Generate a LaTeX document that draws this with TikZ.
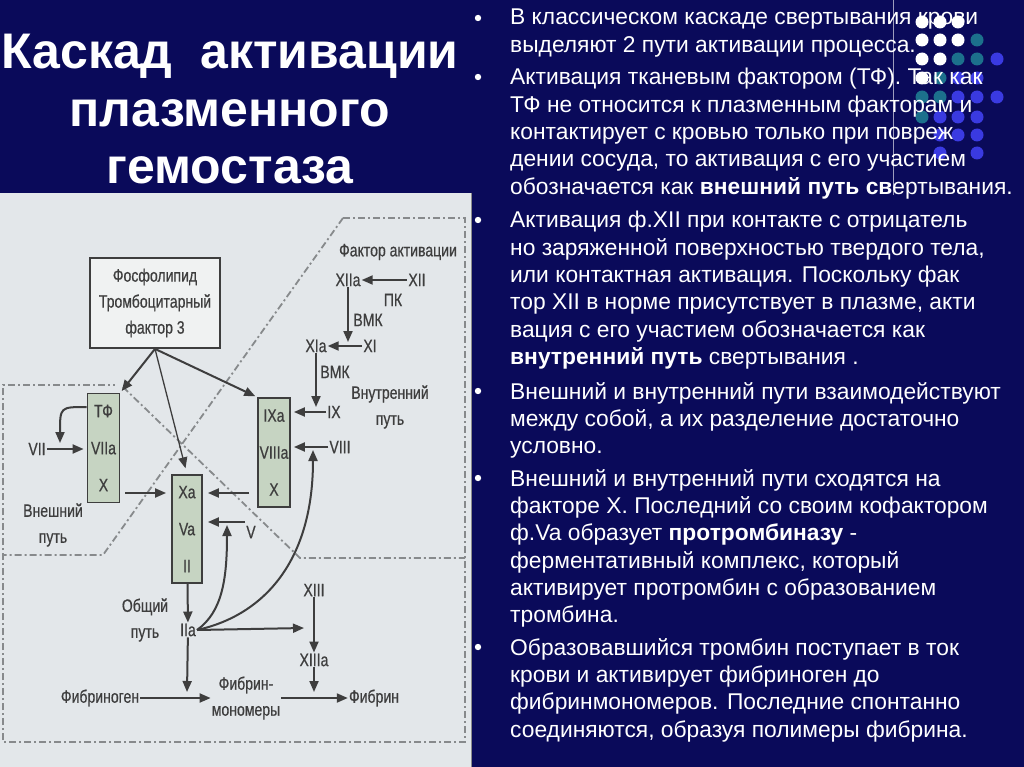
\documentclass[tikz,border=0pt]{standalone}
\usepackage{fontspec}
\setmainfont{Liberation Sans}
\newfontfamily\scanfont[FakeStretch=0.78,FakeBold=0.6]{Liberation Sans}
\usetikzlibrary{arrows.meta}

\definecolor{slidebg}{RGB}{10,10,90}
\definecolor{panelbg}{RGB}{227,231,234}
\definecolor{boxgreen}{RGB}{198,212,194}
\definecolor{boxwhite}{RGB}{240,242,242}
\definecolor{ink}{RGB}{62,62,62}
\definecolor{dashgray}{RGB}{135,138,140}
\definecolor{dotteal}{RGB}{28,112,140}
\definecolor{dotblue}{RGB}{58,58,225}

\tikzset{
  titletext/.style={text=white, font=\bfseries\fontsize{50}{57.5}\selectfont, align=center, inner sep=0pt},
  para/.style={text=white, font=\fontsize{22.8}{27.35}\selectfont, align=left, anchor=north west, inner sep=0pt},
  lbl/.style={text=ink, font=\scanfont\fontsize{18}{26}\selectfont, align=center, inner sep=1pt},
  factorbox/.style={lbl, draw=ink, line width=1.8pt, fill=boxgreen, font=\scanfont\fontsize{18}{37}\selectfont, minimum width=32pt, minimum height=109pt, inner sep=0pt},
  pathline/.style={draw=dashgray, line width=1.8pt, dash pattern=on 7pt off 3pt on 2pt off 3pt},
  arr/.style={draw=ink, line width=2pt, -{Triangle[length=11pt,width=9pt]}},
}

\begin{document}
\begin{tikzpicture}[x=1pt,y=-1pt]
% slide:
\fill[slidebg] (0,0) rectangle (1024,767);
\useasboundingbox (0,0) rectangle (1024,767);
\node[titletext, anchor=north] (title) at (230,34) {Каскад\ \ активации\\плазменного\\гемостаза};

% dots behind the text:
\foreach \dx/\dy/\dc in {977/40/dotteal, 958/59/dotteal, 977/59/dotteal, 997/59/dotblue,
  940/78/dotteal, 958/78/dotblue, 977/78/dotblue, 922/97/dotteal, 940/97/dotteal,
  958/97/dotblue, 977/97/dotblue, 997/97/dotblue, 922/117/dotteal, 940/117/dotblue,
  958/117/dotblue, 977/117/dotblue, 940/135/dotblue, 958/135/dotblue, 977/135/dotblue,
  940/153/dotblue, 977/153/dotblue}
  \fill[\dc] (\dx,\dy) circle (6.5);
\draw[white!60!slidebg, line width=0.8pt] (893,0) -- (893,195);

% bullet text:
\foreach \by in {18,77,220,391,478,647}
  \fill[white] (478,\by) circle (3.2);
\node[para] (p1) at (510,9) {В классическом каскаде свертывания крови\\выделяют 2 пути активации процесса.};
\node[para] (p2) at (510,68) {Активация тканевым фактором (ТФ). Так как\\ТФ не относится к плазменным факторам и\\контактирует с кровью только при повреж\\дении сосуда, то активация с его участием\\обозначается как \textbf{внешний путь св}ертывания.};
\node[para] (p3) at (510,211) {Активация ф.XII при контакте с отрицатель\\но заряженной поверхностью твердого тела,\\или контактная активация. Поскольку фак\\тор XII в норме присутствует в плазме, акти\\вация с его участием обозначается как\\\textbf{внутренний путь} свертывания .};
\node[para] (p4) at (510,382) {Внешний и внутренний пути взаимодействуют\\между собой, а их разделение достаточно\\условно.};
\node[para] (p5) at (510,469) {Внешний и внутренний пути сходятся на\\факторе Х. Последний со своим кофактором\\ф.Va образует \textbf{протромбиназу} -\\ферментативный комплекс, который\\активирует протромбин с образованием\\тромбина.};
\node[para] (p6) at (510,638) {Образовавшийся тромбин поступает в ток\\крови и активирует фибриноген до\\фибринмономеров. Последние спонтанно\\соединяются, образуя полимеры фибрина.};

% white dots over the text:
\foreach \dx/\dy in {922/22, 940/22, 958/22, 922/40, 940/40, 958/40, 922/59, 940/59, 922/78}
  \fill[white] (\dx,\dy) circle (6.5);

% diagram panel:
\fill[panelbg] (0,193) rectangle (471,767);
\draw[ink!60, line width=1pt] (471,193) -- (471,767);
\draw[pathline] (343,218) -- (465,218) -- (465,742) -- (3,742) -- (3,385) -- (115,385);
\draw[pathline] (343,218) -- (103,555) -- (3,555);
\draw[pathline] (123,387) -- (300,558) -- (465,558);

% boxes:
\node[lbl, draw=ink, line width=1.8pt, fill=boxwhite, minimum width=130pt, minimum height=90pt] (phl) at (155,303) {Фосфолипид\\Тромбоцитарный\\фактор 3};
\node[factorbox] (tf) at (103.5,448) {ТФ\\VIIa\\X};
\node[factorbox, minimum width=30pt, minimum height=108pt] (xa) at (187,529) {Xa\\Va\\II};
\node[factorbox] (ixa) at (274,452.5) {IXa\\VIIIa\\X};

% factors:
\node[lbl] (factact) at (398,252) {Фактор активации};
\node[lbl] (xiia) at (348,280) {XIIa};
\node[lbl] (xii) at (417,280) {XII};
\node[lbl] (pk) at (393,300) {ПК};
\node[lbl] (vmk1) at (368,320) {ВМК};
\node[lbl] (xia) at (316,346) {XIa};
\node[lbl] (xi) at (370,346) {XI};
\node[lbl] (vmk2) at (335,372) {ВМК};
\node[lbl] (ix) at (334,412) {IX};
\node[lbl] (viii) at (340,447) {VIII};
\node[lbl] (intpath) at (390,407) {Внутренний\\путь};
\node[lbl] (vii) at (37,449) {VII};
\node[lbl] (extpath) at (53,525) {Внешний\\путь};
\node[lbl] (vf) at (251,532) {V};
\node[lbl] (common) at (145,620) {Общий\\путь};
\node[lbl] (iia) at (188,630) {IIa};
\node[lbl] (xiii) at (314,590) {XIII};
\node[lbl] (xiiia) at (314,660) {XIIIa};
\node[lbl] (fbg) at (100,698) {Фибриноген};
\node[lbl] (fmon) at (246,698) {Фибрин-\\мономеры};
\node[lbl] (fib) at (374,698) {Фибрин};

% arrow ends on other arrows:
\coordinate (j1) at (348,342);
\coordinate (j2) at (316,407);
\coordinate (j3) at (60,443);
\coordinate (j4) at (227,525);
\coordinate (j5) at (313,450);
\coordinate (j6) at (304,628);
\coordinate (j7) at (314,692);
\coordinate (j8) at (187,692);
\coordinate (rowx) at (0,493);
\coordinate (rowv) at (0,522);

% arrows:
\draw[arr] (xii) -- (xiia);
\draw[arr] (xiia) -- (j1);
\draw[arr] (xi) -- (xia);
\draw[arr] (xia) -- (j2);
\draw[arr, shorten >=3pt] (ix) -- (ix -| ixa.east);
\draw[arr, shorten >=3pt] (viii) -- (viii -| ixa.east);
\draw[arr, shorten >=3pt] (vii) -- (vii -| tf.west);
\draw[arr] ([yshift=41pt]tf.west) .. controls (60,407) .. (j3);
\draw[arr, shorten <=5pt, shorten >=5pt] (tf.east |- rowx) -- (xa.west |- rowx);
\draw[arr, shorten <=8pt, shorten >=5pt] (ixa.west |- rowx) -- (xa.east |- rowx);
\draw[arr, shorten >=5pt] (vf.west |- rowv) -- (xa.east |- rowv);
\draw[arr, shorten >=2pt] (phl.south) -- (tf.north east);
\draw[arr, line width=1.3pt, shorten >=6pt] (phl.south) -- (xa.north);
\draw[arr, shorten >=2pt] (phl.south) -- (ixa.north west);
\draw[arr] (xa) -- (iia);
\draw[arr] (iia.east) .. controls (222,612) and (227,580) .. (j4);
\draw[arr] (iia.east) .. controls (265,615) and (313,560) .. (j5);
\draw[arr] (iia.east) -- (j6);
\draw[arr] (xiii) -- (xiiia);
\draw[arr] (xiiia) -- (j7);
\draw[arr] (iia) -- (j8);
\draw[arr] (fbg) -- (fmon.west |- fbg);
\draw[arr] (fmon.east |- fbg) -- (fib);
\end{tikzpicture}
\end{document}
